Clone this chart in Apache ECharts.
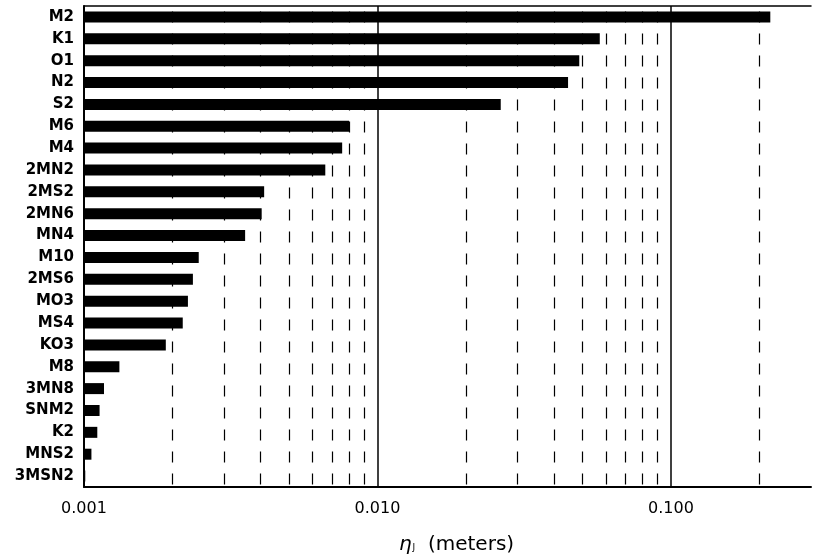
<!DOCTYPE html>
<html>
<head>
<meta charset="utf-8">
<script src="https://cdn.jsdelivr.net/npm/echarts@6/dist/echarts.min.js"></script>
<style>html,body{margin:0;padding:0;background:#fff}#c{width:814px;height:560px}</style>
</head>
<body>
<div id="c"></div>
<script>
const categories = ['M2','K1','O1','N2','S2','M6','M4','2MN2','2MS2','2MN6','MN4','M10','2MS6','MO3','MS4','KO3','M8','3MN8','SNM2','K2','MNS2','3MSN2'];
const amplitudes = [0.218,0.0572,0.0487,0.0446,0.0263,0.0080,0.00758,0.00664,0.00411,0.00403,0.00354,0.00246,0.00235,0.00226,0.00217,0.0019,0.00132,0.00117,0.00113,0.00111,0.00106,0.00101];
const xMin = 0.001, xMax = 0.3;
const tickValues = [0.001, 0.01, 0.1];
const tickLabels = ['0.001', '0.010', '0.100'];
const solidGrid = [0.01, 0.1];
const dashedGrid = [0.002,0.003,0.004,0.005,0.006,0.007,0.008,0.009,0.02,0.03,0.04,0.05,0.06,0.07,0.08,0.09,0.2];

const chart = echarts.init(document.getElementById('c'));
const font = 'DejaVu Sans';
function fmt(v) {
  for (let i = 0; i < tickValues.length; i++) {
    if (Math.abs(Math.log10(v) - Math.log10(tickValues[i])) < 1e-6) return tickLabels[i];
  }
  return '';
}
const markData = dashedGrid.map(v => ({xAxis: v, lineStyle: {type: [11, 11], dashOffset: 16.5, width: 1.2, color: '#000'}}))
  .concat(solidGrid.map(v => ({xAxis: v, lineStyle: {type: 'solid', width: 1.5, color: '#000'}})));

chart.setOption({
  animation: false,
  backgroundColor: '#fff',
  grid: {left: 84, right: 2, top: 6, bottom: 69},
  xAxis: [{
    type: 'log', logBase: 10, min: xMin, max: xMax, position: 'bottom',
    axisLine: {show: true, lineStyle: {color: '#000', width: 2}},
    axisTick: {show: false},
    splitLine: {show: false},
    axisLabel: {formatter: fmt, color: '#000', fontFamily: font, fontSize: 16, margin: 14},
    name: '{e|η}{s|J}{n|  (meters)}',
    nameLocation: 'middle', nameGap: 48,
    nameTextStyle: {
      padding: [0, 0, 0, 18],
      rich: {
        e: {fontFamily: font, fontSize: 20, fontStyle: 'italic', color: '#000'},
        s: {fontFamily: font, fontSize: 9, color: '#000', verticalAlign: 'bottom', padding: [0, 0, 3, 1]},
        n: {fontFamily: font, fontSize: 20, color: '#000'}
      }
    }
  }, {
    type: 'log', logBase: 10, min: xMin, max: xMax, position: 'top',
    axisLine: {show: true, lineStyle: {color: '#000', width: 1.5}},
    axisTick: {show: false}, axisLabel: {show: false}, splitLine: {show: false}
  }],
  yAxis: {
    type: 'category', data: categories, inverse: true,
    axisLine: {show: true, lineStyle: {color: '#000', width: 2}},
    axisTick: {show: false},
    axisLabel: {color: '#000', fontFamily: font, fontWeight: 'bold', fontSize: 15, margin: 10}
  },
  series: [{
    type: 'custom',
    z: 3,
    encode: {x: 1, y: 0},
    data: amplitudes.map((v, i) => [i, v]),
    renderItem: function (params, api) {
      const cat = api.value(0);
      const v = api.value(1);
      const start = api.coord([xMin, cat]);
      const end = api.coord([v, cat]);
      const h = 11;
      return {type: 'rect', shape: {x: start[0], y: start[1] - h / 2, width: end[0] - start[0], height: h}, style: {fill: '#000'}};
    },
    markLine: {
      z: 1, silent: true, symbol: 'none', precision: 6, label: {show: false},
      data: markData
    }
  }]
});
</script>
</body>
</html>
